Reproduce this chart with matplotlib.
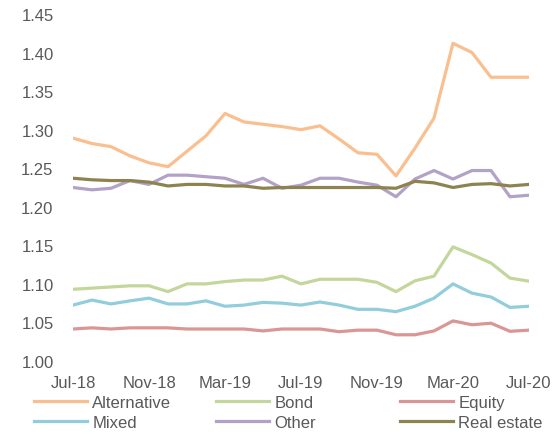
import matplotlib
matplotlib.use("Agg")
import matplotlib.pyplot as plt
import numpy as np

# monthly, Jul-18 .. Jul-20
months = ["Jul-18", "Aug-18", "Sep-18", "Oct-18", "Nov-18", "Dec-18", "Jan-19",
          "Feb-19", "Mar-19", "Apr-19", "May-19", "Jun-19", "Jul-19", "Aug-19",
          "Sep-19", "Oct-19", "Nov-19", "Dec-19", "Jan-20", "Feb-20", "Mar-20",
          "Apr-20", "May-20", "Jun-20", "Jul-20"]

alternative = [1.289, 1.282, 1.278, 1.266, 1.257, 1.252, 1.272, 1.292, 1.321, 1.310,
               1.307, 1.304, 1.300, 1.305, 1.288, 1.270, 1.268, 1.240, 1.276, 1.315,
               1.412, 1.400, 1.368, 1.368, 1.368]
bond = [1.093, 1.0945, 1.096, 1.0975, 1.0975, 1.090, 1.100, 1.100, 1.103, 1.105,
        1.105, 1.110, 1.100, 1.106, 1.106, 1.106, 1.102, 1.090, 1.104, 1.110,
        1.148, 1.138, 1.127, 1.1075, 1.1035]
equity = [1.0415, 1.043, 1.0415, 1.043, 1.043, 1.043, 1.0415, 1.0415, 1.0415, 1.0415,
          1.039, 1.0415, 1.0415, 1.0415, 1.038, 1.040, 1.040, 1.034, 1.034, 1.039,
          1.052, 1.047, 1.049, 1.0385, 1.040]
mixed = [1.0725, 1.079, 1.074, 1.078, 1.0815, 1.074, 1.074, 1.078, 1.071, 1.0725,
         1.076, 1.075, 1.0725, 1.0765, 1.0725, 1.067, 1.067, 1.064, 1.071, 1.0815,
         1.100, 1.088, 1.083, 1.0695, 1.071]
other = [1.225, 1.222, 1.224, 1.234, 1.229, 1.241, 1.241, 1.239, 1.237, 1.229,
         1.237, 1.224, 1.228, 1.237, 1.237, 1.232, 1.228, 1.213, 1.236, 1.247,
         1.236, 1.247, 1.247, 1.213, 1.215]
real_estate = [1.237, 1.235, 1.234, 1.234, 1.232, 1.227, 1.229, 1.229, 1.227, 1.227,
               1.224, 1.225, 1.225, 1.225, 1.225, 1.225, 1.225, 1.224, 1.233, 1.231,
               1.225, 1.229, 1.230, 1.227, 1.229]

series = [("Alternative", alternative, "#FABF8F"),
          ("Bond", bond, "#C3D69B"),
          ("Equity", equity, "#DA9694"),
          ("Mixed", mixed, "#92CDDC"),
          ("Other", other, "#B3A2C7"),
          ("Real estate", real_estate, "#8C8350")]

plt.rcParams['font.family'] = ['Liberation Sans', 'DejaVu Sans']
grey = "#595959"

fig = plt.figure(figsize=(5.58, 4.39), dpi=100)
ax = fig.add_axes([73 / 558, 1 - 362 / 439, 456 / 558, 347 / 439])

x = np.arange(len(months))
lines = []
for name, vals, col in series:
    ln, = ax.plot(x, vals, color=col, lw=2.3, label=name)
    lines.append(ln)

ax.set_xlim(0, len(months) - 1)
ax.set_ylim(1.00, 1.45)
yt = np.arange(1.00, 1.451, 0.05)
ax.set_yticks(yt)
ax.set_yticklabels([f"{v:.2f}" for v in yt])
ax.set_xticks(x[::4])
ax.set_xticklabels(months[::4])
ax.tick_params(length=0, labelsize=12, colors=grey)
ax.tick_params(axis='y', pad=14)
ax.tick_params(axis='x', pad=10)
for s in ax.spines.values():
    s.set_visible(False)

# legend laid out row-wise in three fixed columns
col_x = [34, 216, 400]
for i, cx in enumerate(col_x):
    hs = [lines[i], lines[i + 3]]
    leg = fig.legend(hs, [h.get_label() for h in hs], loc='upper left',
                     bbox_to_anchor=(cx / 558, 1 - 396 / 439), frameon=False,
                     fontsize=12, handlelength=3.2, handletextpad=0.3,
                     labelspacing=0.3, borderpad=0, borderaxespad=0)
    for t in leg.get_texts():
        t.set_color(grey)

fig.savefig("out.png", dpi=100)
